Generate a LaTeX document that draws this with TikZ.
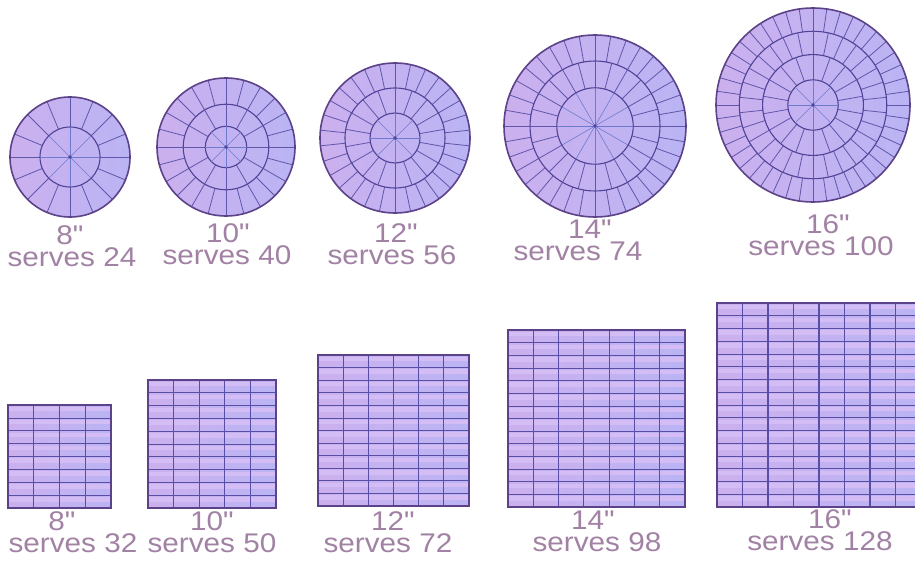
\documentclass[tikz,border=0pt]{standalone}
\usepackage{fontspec}
\setmainfont{Liberation Sans}[Ligatures=TeXOff]
\definecolor{cakeA}{RGB}{204,176,238}
\definecolor{cakeB}{RGB}{186,180,244}
\definecolor{cakeStripe}{RGB}{212,188,244}
\definecolor{rimC}{RGB}{92,66,136}
\definecolor{ringC}{RGB}{80,66,150}
\definecolor{spokeC}{RGB}{96,86,170}
\definecolor{cspokeC}{RGB}{110,122,205}
\definecolor{gridC}{RGB}{88,78,165}
\definecolor{labelC}{RGB}{162,130,164}
\tikzset{
  cakeshade/.style={left color=cakeA, right color=cakeB},
  rim/.style={draw=rimC, line width=1.6pt},
  ringline/.style={draw=ringC, line width=1.1pt},
  spokeline/.style={draw=spokeC, line width=0.8pt},
  cspokeline/.style={draw=cspokeC, line width=0.6pt},
  gridline/.style={draw=gridC, line width=0.7pt},
  vgridline/.style={draw=gridC, line width=1.1pt},
  lbl/.style={text=labelC, inner sep=0pt, anchor=base, xscale=1.1,
    font=\fontsize{27}{27}\selectfont}
}
% round cake: cx, cy, R, list of inner/outer/pieces (fractions of R)
\newcommand{\rcake}[4]{%
  \shade[cakeshade] (#1,#2) circle[radius=#3pt];
  \begin{scope}[shift={(#1,#2)}]
  \foreach \a/\b/\n in {#4} {
    \ifdim \a pt=0pt
      \foreach \k in {1,...,\n} {\draw[cspokeline] (0,0) -- ({\k*360/\n+90}:{\b*#3});}
      \fill[ringC] (0,0) circle[radius=1.8pt];
    \else
      \foreach \k in {1,...,\n} {\draw[spokeline] ({\k*360/\n+90}:{\a*#3}) -- ({\k*360/\n+90}:{\b*#3});}
      \draw[ringline] (0,0) circle[radius={\a*#3*1pt}];
    \fi
  }
  \end{scope}
  \draw[rim] (#1,#2) circle[radius=#3pt];
}
% square cake: x0, y0, size, cols, rows
\newcommand{\scake}[5]{%
  \begin{scope}[shift={(#1,#2)}]
  \shade[cakeshade] (0,0) rectangle (#3,#3);
  \foreach \j in {1,...,#5} {
    \fill[cakeStripe] (0,{(\j-1)*#3/#5+0.15*#3/#5}) rectangle (#3,{(\j-1)*#3/#5+0.5*#3/#5});
  }
  \foreach \j in {1,...,#5} {\draw[gridline] (0,{\j*#3/#5}) -- (#3,{\j*#3/#5});}
  \foreach \i in {1,...,#4} {\draw[vgridline] ({\i*#3/#4},0) -- ({\i*#3/#4},#3);}
  \draw[rim] (0,0) rectangle (#3,#3);
  \end{scope}
}
\begin{document}
\begin{tikzpicture}[x=1pt,y=-1pt]
\useasboundingbox (0,0) rectangle (915,567);
\fill[white] (0,0) rectangle (915,567);
\clip (0,0) rectangle (915,567);
% round cakes
\rcake{70}{157}{60}{0.5/1/16, 0/0.5/8}
\rcake{226}{147}{69}{0.62/1/24, 0.3/0.62/12, 0/0.3/8}
\rcake{395}{138}{75}{0.667/1/30, 0.333/0.667/18, 0/0.333/8}
\rcake{595}{126}{91}{0.714/1/36, 0.42/0.714/24, 0/0.42/12}
\rcake{813}{105}{97}{0.76/1/44, 0.52/0.76/30, 0.26/0.52/18, 0/0.26/8}
% square cakes
\scake{8}{405}{103}{4}{8}
\scake{148}{380}{128}{5}{10}
\scake{318}{355}{151}{6}{12}
\scake{508}{330}{177}{7}{14}
\scake{717}{303}{204}{8}{16}
% labels round
\node[lbl] (r8a) at (70,244) {8"};
\node[lbl] (r8b) at (72,266) {serves 24};
\node[lbl] (r10a) at (228,242) {10"};
\node[lbl] (r10b) at (227,264) {serves 40};
\node[lbl] (r12a) at (396,242) {12"};
\node[lbl] (r12b) at (392,264) {serves 56};
\node[lbl] (r14a) at (590,238) {14"};
\node[lbl] (r14b) at (578,260) {serves 74};
\node[lbl] (r16a) at (828,233) {16"};
\node[lbl] (r16b) at (821,255) {serves 100};
% labels square
\node[lbl] (s8a) at (62,530) {8"};
\node[lbl] (s8b) at (73,552) {serves 32};
\node[lbl] (s10a) at (212,530) {10"};
\node[lbl] (s10b) at (212,552) {serves 50};
\node[lbl] (s12a) at (393,530) {12"};
\node[lbl] (s12b) at (388,552) {serves 72};
\node[lbl] (s14a) at (593,529) {14"};
\node[lbl] (s14b) at (597,551) {serves 98};
\node[lbl] (s16a) at (830,528) {16"};
\node[lbl] (s16b) at (820,550) {serves 128};
\end{tikzpicture}
\end{document}
